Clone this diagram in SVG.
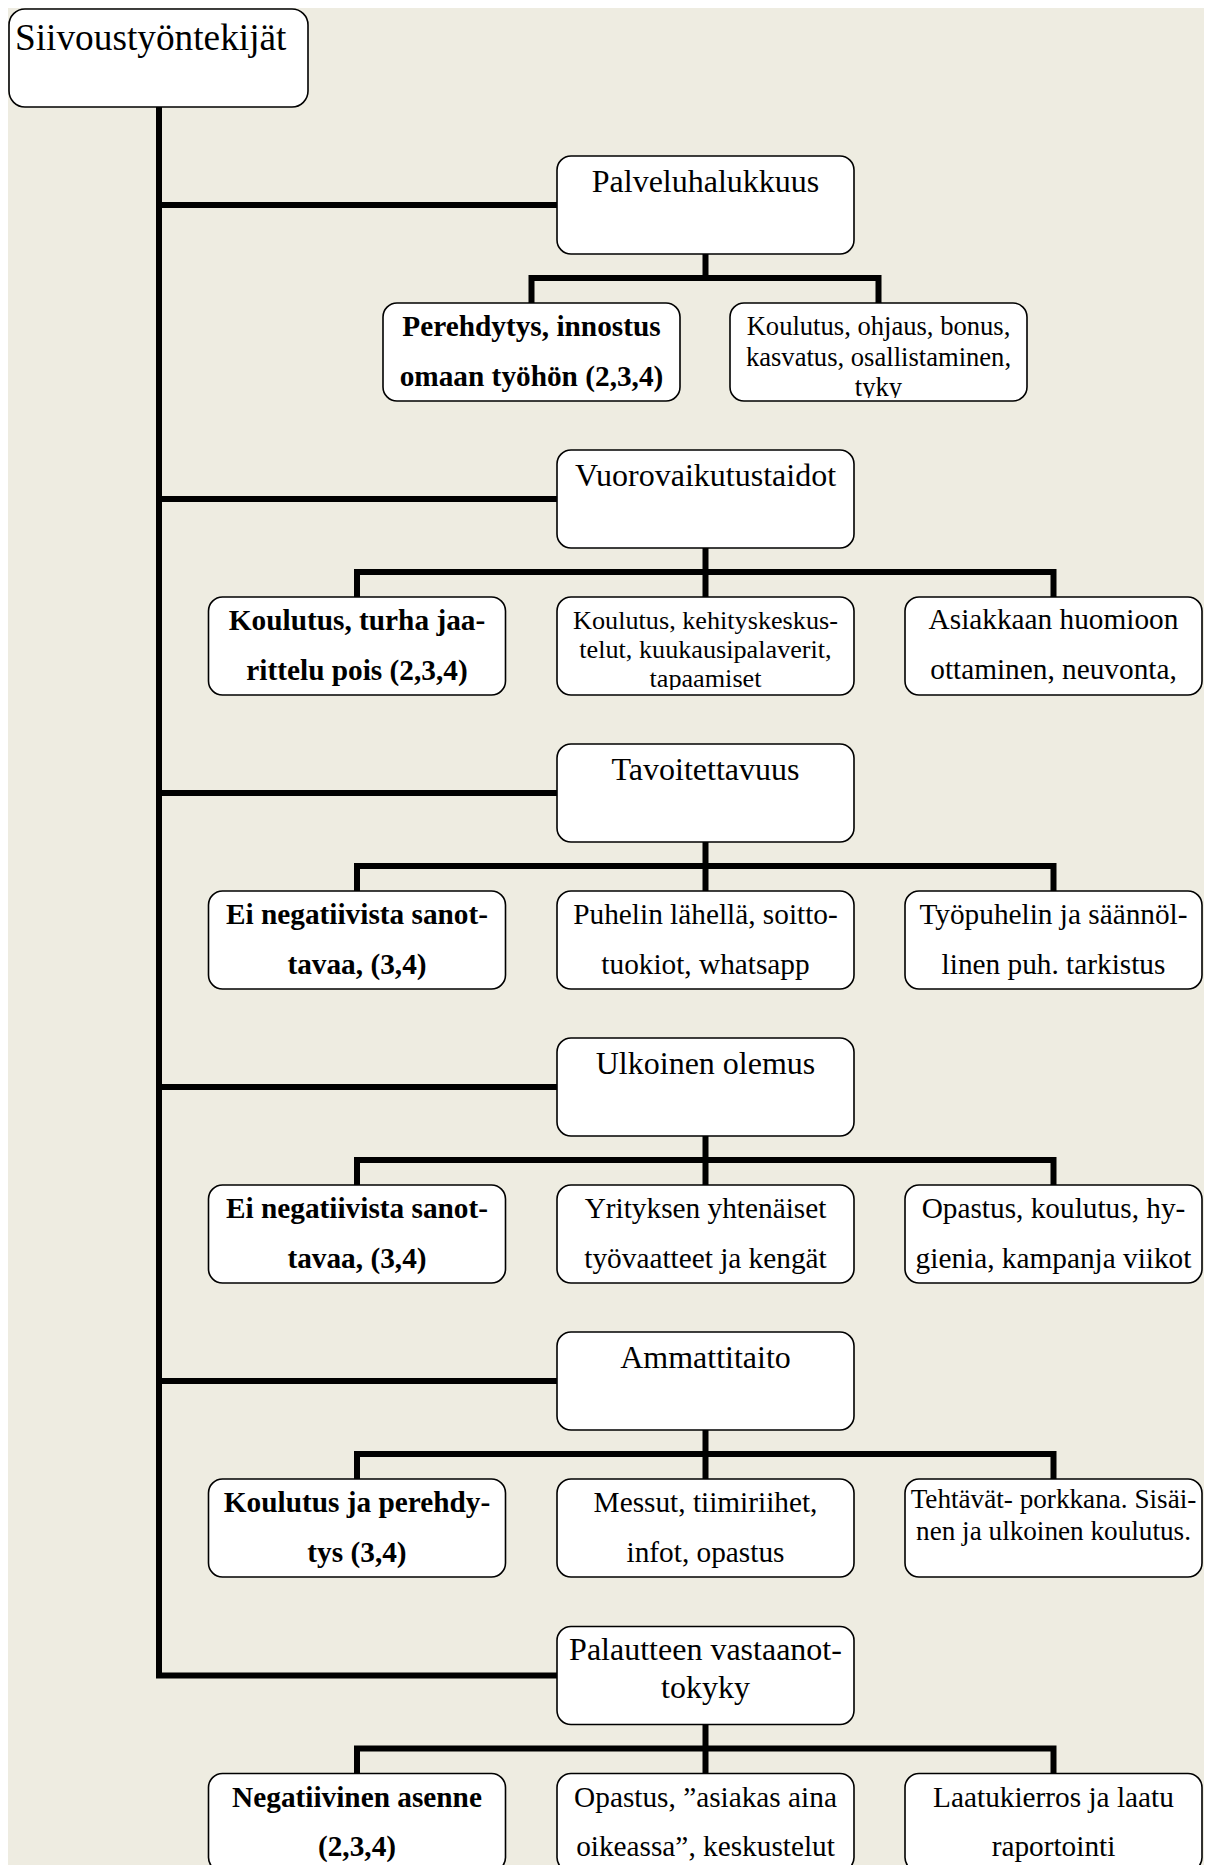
<svg xmlns="http://www.w3.org/2000/svg" width="1213" height="1865" viewBox="0 0 1213 1865">
  <style>
    .page { fill: #eeece1; }
    .box { fill: #ffffff; stroke: #000000; stroke-width: 1.6; }
    .wire { fill: none; stroke: #000000; stroke-width: 6; stroke-linejoin: miter; stroke-linecap: butt; }
    text { font-family: "Liberation Serif", "Times New Roman", serif; fill: #000000; }
    .root { font-size: 37.3px; }
    .title { font-size: 32px; text-anchor: middle; }
    .item { font-size: 29.3px; text-anchor: middle; }
    .bold { font-weight: bold; }
    .small { font-size: 26.6px; text-anchor: middle; }
    .note { font-size: 27.2px; text-anchor: middle; }
    .tiny { font-size: 26.2px; text-anchor: middle; }
  </style>
  <defs>
    <clipPath id="clip-palvelu-b">
      <rect x="730" y="303" width="297" height="95" rx="14"/>
    </clipPath>
    <clipPath id="clip-vuoro-b">
      <rect x="557" y="597" width="297" height="93" rx="14"/>
    </clipPath>
  </defs>

  <rect class="page" x="8" y="8" width="1196" height="1857"/>

  <!-- connectors -->
  <g id="connectors">
    <!-- trunk, ending in the last branch -->
    <path class="wire" d="M159,107 V1675.5 H557"/>
    <path class="wire" d="M159,205 H557"/>
    <path class="wire" d="M159,499 H557"/>
    <path class="wire" d="M159,793 H557"/>
    <path class="wire" d="M159,1087 H557"/>
    <path class="wire" d="M159,1381 H557"/>
    <!-- Palveluhalukkuus -> 2 children -->
    <path class="wire" d="M531.5,303 V278 H878.5 V303 M705.5,254 V278"/>
    <!-- three-child groups -->
    <path class="wire" d="M357,597 V572 H1053.5 V597 M705.5,548 V597"/>
    <path class="wire" d="M357,891 V866 H1053.5 V891 M705.5,842 V891"/>
    <path class="wire" d="M357,1185 V1160 H1053.5 V1185 M705.5,1136 V1185"/>
    <path class="wire" d="M357,1479 V1454 H1053.5 V1479 M705.5,1430 V1479"/>
    <path class="wire" d="M357,1773.5 V1748.5 H1053.5 V1773.5 M705.5,1724.5 V1773.5"/>
  </g>

  <!-- root -->
  <g id="siivoustyontekijat">
    <rect class="box" x="9" y="9" width="299" height="98" rx="16"/>
    <text class="root" x="15" y="50">Siivoustyöntekijät</text>
  </g>

  <!-- 1: Palveluhalukkuus -->
  <g id="palveluhalukkuus">
    <rect class="box" x="557" y="156" width="297" height="98" rx="14"/>
    <text class="title" x="705.5" y="192">Palveluhalukkuus</text>
  </g>
  <g id="palvelu-a">
    <rect class="box" x="383" y="303" width="297" height="98" rx="14"/>
    <text class="item bold" x="531.5" y="336">Perehdytys, innostus</text>
    <text class="item bold" x="531.5" y="386">omaan työhön (2,3,4)</text>
  </g>
  <g id="palvelu-b">
    <rect class="box" x="730" y="303" width="297" height="98" rx="14"/>
    <g clip-path="url(#clip-palvelu-b)">
      <text class="small" x="878.5" y="335">Koulutus, ohjaus, bonus,</text>
      <text class="small" x="878.5" y="366">kasvatus, osallistaminen,</text>
      <text class="small" x="878.5" y="396">tyky</text>
    </g>
  </g>

  <!-- 2: Vuorovaikutustaidot -->
  <g id="vuorovaikutustaidot">
    <rect class="box" x="557" y="450" width="297" height="98" rx="14"/>
    <text class="title" x="705.5" y="486">Vuorovaikutustaidot</text>
  </g>
  <g id="vuoro-a">
    <rect class="box" x="208.5" y="597" width="297" height="98" rx="14"/>
    <text class="item bold" x="357" y="630">Koulutus, turha jaa-</text>
    <text class="item bold" x="357" y="680">rittelu pois (2,3,4)</text>
  </g>
  <g id="vuoro-b">
    <rect class="box" x="557" y="597" width="297" height="98" rx="14"/>
    <g clip-path="url(#clip-vuoro-b)">
      <text class="tiny" x="705.5" y="629">Koulutus, kehityskeskus-</text>
      <text class="tiny" x="705.5" y="658">telut, kuukausipalaverit,</text>
      <text class="tiny" x="705.5" y="687">tapaamiset</text>
    </g>
  </g>
  <g id="vuoro-c">
    <rect class="box" x="905" y="597" width="297" height="98" rx="14"/>
    <text class="item" x="1053.5" y="629">Asiakkaan huomioon</text>
    <text class="item" x="1053.5" y="679">ottaminen, neuvonta,</text>
  </g>

  <!-- 3: Tavoitettavuus -->
  <g id="tavoitettavuus">
    <rect class="box" x="557" y="744" width="297" height="98" rx="14"/>
    <text class="title" x="705.5" y="780">Tavoitettavuus</text>
  </g>
  <g id="tavoite-a">
    <rect class="box" x="208.5" y="891" width="297" height="98" rx="14"/>
    <text class="item bold" x="357" y="924">Ei negatiivista sanot-</text>
    <text class="item bold" x="357" y="974">tavaa, (3,4)</text>
  </g>
  <g id="tavoite-b">
    <rect class="box" x="557" y="891" width="297" height="98" rx="14"/>
    <text class="item" x="705.5" y="924">Puhelin lähellä, soitto-</text>
    <text class="item" x="705.5" y="974">tuokiot, whatsapp</text>
  </g>
  <g id="tavoite-c">
    <rect class="box" x="905" y="891" width="297" height="98" rx="14"/>
    <text class="item" x="1053.5" y="924">Työpuhelin ja säännöl-</text>
    <text class="item" x="1053.5" y="974">linen puh. tarkistus</text>
  </g>

  <!-- 4: Ulkoinen olemus -->
  <g id="ulkoinen-olemus">
    <rect class="box" x="557" y="1038" width="297" height="98" rx="14"/>
    <text class="title" x="705.5" y="1074">Ulkoinen olemus</text>
  </g>
  <g id="ulkoinen-a">
    <rect class="box" x="208.5" y="1185" width="297" height="98" rx="14"/>
    <text class="item bold" x="357" y="1218">Ei negatiivista sanot-</text>
    <text class="item bold" x="357" y="1268">tavaa, (3,4)</text>
  </g>
  <g id="ulkoinen-b">
    <rect class="box" x="557" y="1185" width="297" height="98" rx="14"/>
    <text class="item" x="705.5" y="1218">Yrityksen yhtenäiset</text>
    <text class="item" x="705.5" y="1268">työvaatteet ja kengät</text>
  </g>
  <g id="ulkoinen-c">
    <rect class="box" x="905" y="1185" width="297" height="98" rx="14"/>
    <text class="item" x="1053.5" y="1218">Opastus, koulutus, hy-</text>
    <text class="item" x="1053.5" y="1268">gienia, kampanja viikot</text>
  </g>

  <!-- 5: Ammattitaito -->
  <g id="ammattitaito">
    <rect class="box" x="557" y="1332" width="297" height="98" rx="14"/>
    <text class="title" x="705.5" y="1368">Ammattitaito</text>
  </g>
  <g id="ammatti-a">
    <rect class="box" x="208.5" y="1479" width="297" height="98" rx="14"/>
    <text class="item bold" x="357" y="1512">Koulutus ja perehdy-</text>
    <text class="item bold" x="357" y="1562">tys (3,4)</text>
  </g>
  <g id="ammatti-b">
    <rect class="box" x="557" y="1479" width="297" height="98" rx="14"/>
    <text class="item" x="705.5" y="1512">Messut, tiimiriihet,</text>
    <text class="item" x="705.5" y="1562">infot, opastus</text>
  </g>
  <g id="ammatti-c">
    <rect class="box" x="905" y="1479" width="297" height="98" rx="14"/>
    <text class="note" x="1053.5" y="1508">Tehtävät- porkkana. Sisäi-</text>
    <text class="note" x="1053.5" y="1540">nen ja ulkoinen koulutus.</text>
  </g>

  <!-- 6: Palautteen vastaanottokyky -->
  <g id="palautteen-vastaanottokyky">
    <rect class="box" x="557" y="1626.5" width="297" height="98" rx="14"/>
    <text class="title" x="705.5" y="1660">Palautteen vastaanot-</text>
    <text class="title" x="705.5" y="1698">tokyky</text>
  </g>
  <g id="palaute-a">
    <rect class="box" x="208.5" y="1773.5" width="297" height="98" rx="14"/>
    <text class="item bold" x="357" y="1807">Negatiivinen asenne</text>
    <text class="item bold" x="357" y="1856">(2,3,4)</text>
  </g>
  <g id="palaute-b">
    <rect class="box" x="557" y="1773.5" width="297" height="98" rx="14"/>
    <text class="item" x="705.5" y="1807">Opastus, ”asiakas aina</text>
    <text class="item" x="705.5" y="1856">oikeassa”, keskustelut</text>
  </g>
  <g id="palaute-c">
    <rect class="box" x="905" y="1773.5" width="297" height="98" rx="14"/>
    <text class="item" x="1053.5" y="1807">Laatukierros ja laatu</text>
    <text class="item" x="1053.5" y="1856">raportointi</text>
  </g>
</svg>
